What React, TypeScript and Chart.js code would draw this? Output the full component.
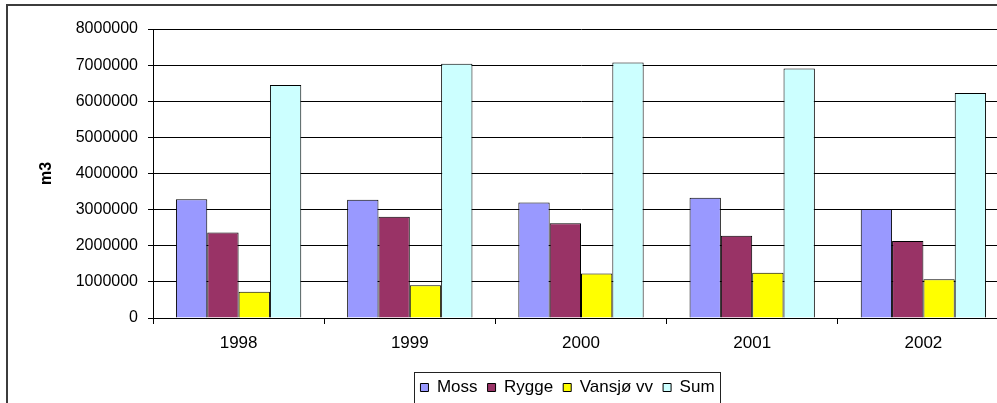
import React, { useEffect, useRef } from 'react';
import { Chart, registerables } from 'chart.js';

Chart.register(...registerables);

const years = ['1998', '1999', '2000', '2001', '2002'];
const moss = [3290000, 3270000, 3200000, 3330000, 3020000];
const rygge = [2370000, 2800000, 2620000, 2280000, 2130000];
const vansjo = [730000, 910000, 1230000, 1250000, 1070000];
const sum = [6450000, 7040000, 7070000, 6910000, 6230000];
const yTicks = [0, 1000000, 2000000, 3000000, 4000000, 5000000, 6000000, 7000000, 8000000];

const W = 1040;
const H = 406;
const FONT = "'Liberation Sans', Arial, sans-serif";

const decorPlugin = {
  id: 'decor',
  afterLayout(chart: any) {
    const lg = chart.legend;
    if (!lg) return;
    const dx = 567.5 - (lg.left + lg.right) / 2;
    lg.left += dx;
    lg.right += dx;
  },
  beforeDraw(chart: any) {
    const ctx = chart.ctx;
    ctx.save();
    ctx.fillStyle = '#ffffff';
    ctx.fillRect(0, 0, chart.width, chart.height);
    ctx.strokeStyle = '#3c3c3c';
    ctx.lineWidth = 2;
    ctx.strokeRect(7, 5, chart.width + 20, chart.height + 20);
    ctx.restore();
  },
  afterDraw(chart: any) {
    const lg = chart.legend;
    if (!lg || !lg.legendHitBoxes || !lg.legendHitBoxes.length) return;
    const hb = lg.legendHitBoxes;
    let l = Infinity, r = -Infinity, t = Infinity, b = -Infinity;
    for (const h of hb) {
      l = Math.min(l, h.left);
      r = Math.max(r, h.left + h.width);
      t = Math.min(t, h.top);
      b = Math.max(b, h.top + h.height);
    }
    const ctx = chart.ctx;
    ctx.save();
    ctx.strokeStyle = '#222';
    ctx.lineWidth = 1;
    ctx.strokeRect(Math.round(l - 6) + 0.5, Math.round(t - 7) + 0.5, Math.round(r - l + 12), Math.round(b - t + 14));
    ctx.restore();
  },
};

export default function App() {
  const ref = useRef<HTMLCanvasElement>(null);
  useEffect(() => {
    const mk = (label: string, data: number[], color: string) => ({
      label,
      data,
      backgroundColor: color,
      borderColor: '#000000',
      borderWidth: 1,
      categoryPercentage: 0.732,
      barPercentage: 1,
    });
    const chart = new Chart(ref.current as HTMLCanvasElement, {
      type: 'bar',
      data: {
        labels: years,
        datasets: [
          mk('Moss', moss, '#9999FF'),
          mk('Rygge', rygge, '#993366'),
          mk('Vansjø vv', vansjo, '#FFFF00'),
          mk('Sum', sum, '#CCFFFF'),
        ],
      },
      options: {
        responsive: false,
        animation: false,
        devicePixelRatio: 1,
        layout: { padding: { left: 10, top: 29, right: W - 1009, bottom: 0 } },
        plugins: {
          tooltip: { enabled: false },
          legend: {
            position: 'bottom',
            labels: {
              boxWidth: 8,
              boxHeight: 8,
              padding: 10,
              color: '#000',
              font: { family: FONT, size: 17 },
            },
          },
        },
        scales: {
          x: {
            offset: true,
            grid: {
              display: true,
              drawOnChartArea: false,
              drawTicks: true,
              tickLength: 6,
              color: '#000',
              offset: true,
            },
            border: { display: true, color: '#000', width: 1 },
            ticks: { color: '#000', padding: 9, font: { family: FONT, size: 17 }, maxRotation: 0 },
            afterFit: (s: any) => { s.height = 51; },
          },
          y: {
            min: 0,
            max: 8000000,
            afterBuildTicks: (s: any) => { s.ticks = yTicks.map((v) => ({ value: v })); },
            grid: { color: '#000', lineWidth: 1, drawTicks: true, tickLength: 5 },
            border: { display: true, color: '#000', width: 1 },
            ticks: {
              color: '#000',
              padding: 10,
              font: { family: FONT, size: 16 },
              callback: (v: any) => String(v),
            },
            title: {
              display: true,
              text: 'm3',
              color: '#000',
              font: { family: FONT, size: 16, weight: 'bold' },
              padding: { top: 27, bottom: 0 },
            },
            afterFit: (s: any) => { s.width = 153 - 10; },
          },
        },
      },
      plugins: [decorPlugin],
    } as any);
    return () => chart.destroy();
  }, []);
  return (
    <div style={{ position: 'fixed', left: 0, top: 0, width: 997, height: 403, overflow: 'hidden', background: '#fff' }}>
      <canvas ref={ref} width={W} height={H} style={{ display: 'block', width: W, height: H }} />
    </div>
  );
}
